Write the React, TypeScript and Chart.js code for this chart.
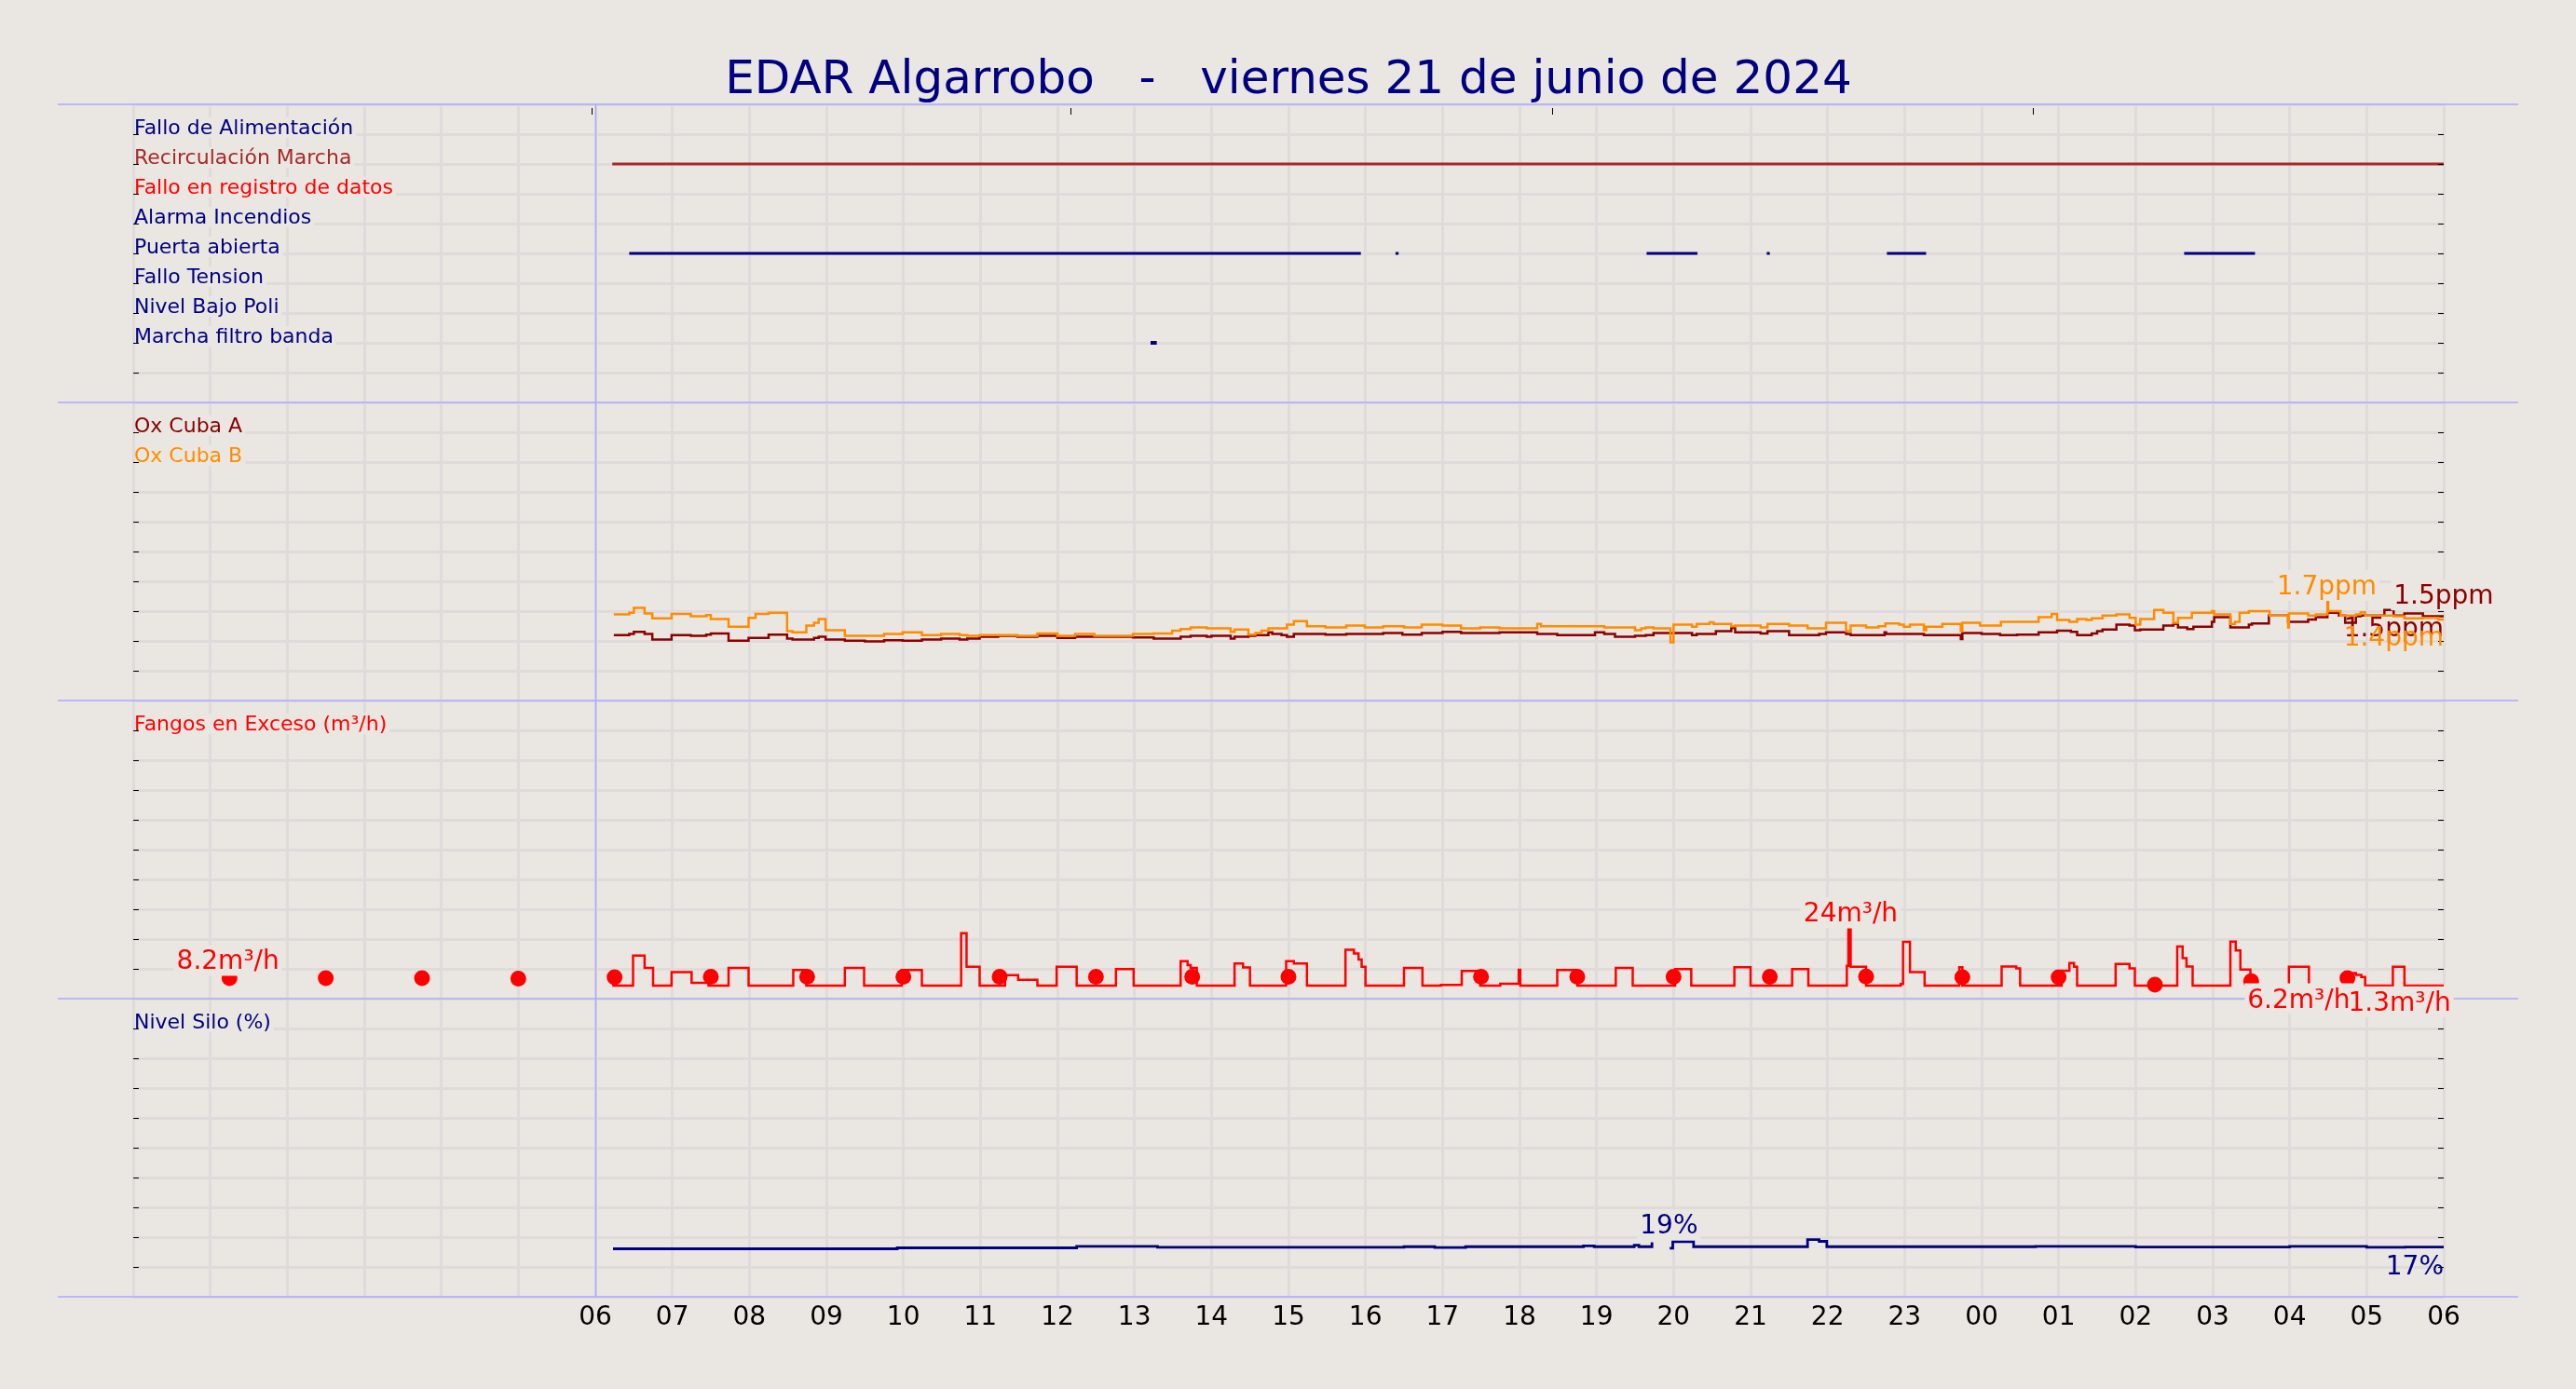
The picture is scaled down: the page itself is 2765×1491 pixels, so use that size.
import React, { useEffect, useRef } from "react";
import { Chart, registerables } from "chart.js";

Chart.register(...registerables);

const FONT = "'DejaVu Sans', Verdana, sans-serif";
const BG = "#EAE6E1";
const GRID = "#E0DBDB";
const FRAME = "#AAAAFF";
const NAVY = "#000080";
const BROWN = "#A52A2A";
const RED = "#FF0000";
const DARKRED = "#8B0000";
const ORANGE = "#FF8C00";

const TITLE = "EDAR Algarrobo   -   viernes 21 de junio de 2024";

// x is hours since 00:00 of 21/06; the axis runs to 06:00 of 22/06
const topTickHours = [5.95, 12.17, 18.42, 24.67];

// panel 1: digital signals (one row each, on/off intervals in hours)
const signalNames = [
  "Fallo de Alimentación",
  "Recirculación Marcha",
  "Fallo en registro de datos",
  "Alarma Incendios",
  "Puerta abierta",
  "Fallo Tension",
  "Nivel Bajo Poli",
  "Marcha filtro banda",
];
const signalColors = [NAVY, BROWN, RED, NAVY, NAVY, NAVY, NAVY, NAVY];
const signalOn = [
  [],
  [[6.22, 30]],
  [],
  [],
  [[6.44, 15.94], [16.39, 16.43], [19.65, 20.31], [21.21, 21.25], [22.77, 23.28], [26.63, 27.55]],
  [],
  [],
  [[13.21, 13.29]],
];

// panel 2: oxygen (ppm)
const oxNames = ["Ox Cuba A", "Ox Cuba B"];
const oxATimes = [
  6.24, 6.44, 6.5, 6.64, 6.74, 6.99, 7.24, 7.44, 7.5, 7.73, 7.99, 8.25, 8.49, 8.56, 8.84, 8.9, 8.99,
  9.24, 9.5, 9.75, 9.99, 10.24, 10.49, 10.73, 10.83, 10.99, 11.23, 11.48, 11.74, 12.0, 12.23, 12.98,
  13.25, 13.6, 13.73, 13.94, 14.0, 14.25, 14.3, 14.48, 14.57, 14.74, 14.79, 14.91, 14.98, 15.07, 15.48,
  15.75, 16.23, 16.48, 16.73, 17.0, 17.24, 17.74, 18.23, 18.49, 18.98, 19.1, 19.24, 19.5, 19.64, 19.74,
  20.24, 20.3, 20.55, 20.75, 20.8, 21.13, 21.22, 21.5, 21.89, 21.98, 22.24, 22.3, 22.74, 22.76, 23.25,
  23.73, 23.75, 24.0, 24.24, 24.46, 24.74, 24.98, 25.16, 25.24, 25.43, 25.5, 25.57, 25.75, 25.92, 25.99,
  26.06, 26.36, 26.49, 26.55, 26.67, 26.75, 26.99, 27.02, 27.23, 27.47, 27.51, 27.73, 27.98, 28.24,
  28.34, 28.49, 28.64, 28.72, 28.86, 28.92, 29.23, 29.35, 29.49, 29.73, 30.0,
];
const oxAValues = [
  1.17, 1.19, 1.23, 1.19, 1.09, 1.17, 1.16, 1.18, 1.2, 1.07, 1.12, 1.18, 1.11, 1.09, 1.12, 1.14, 1.09,
  1.07, 1.06, 1.08, 1.07, 1.09, 1.11, 1.09, 1.11, 1.14, 1.16, 1.14, 1.16, 1.12, 1.14, 1.13,
  1.11, 1.14, 1.16, 1.14, 1.16, 1.11, 1.14, 1.16, 1.17, 1.22, 1.19, 1.17, 1.14, 1.19, 1.18,
  1.19, 1.21, 1.18, 1.21, 1.23, 1.21, 1.22, 1.19, 1.17, 1.22, 1.19, 1.14, 1.16, 1.17, 1.21,
  1.17, 1.19, 1.24, 1.3, 1.22, 1.2, 1.24, 1.17, 1.19, 1.22, 1.19, 1.17, 1.22, 1.19, 1.17,
  1.1, 1.21, 1.19, 1.17, 1.18, 1.22, 1.25, 1.23, 1.17, 1.2, 1.24, 1.27, 1.36, 1.34, 1.26,
  1.27, 1.34, 1.37, 1.31, 1.28, 1.32, 1.41, 1.49, 1.31, 1.36, 1.38, 1.52, 1.41, 1.45,
  1.49, 1.57, 1.52, 1.39, 1.51, 1.52, 1.62, 1.52, 1.56, 1.51, 1.51,
];
const oxBTimes = [
  6.24, 6.44, 6.5, 6.64, 6.74, 6.99, 7.24, 7.44, 7.5, 7.73, 7.99, 8.08, 8.25, 8.49, 8.56, 8.74, 8.84,
  8.9, 8.99, 9.24, 9.75, 9.99, 10.24, 10.49, 10.73, 10.83, 10.99, 11.48, 11.74, 12.0, 12.23, 12.48,
  12.98, 13.25, 13.49, 13.6, 13.73, 13.94, 14.25, 14.3, 14.48, 14.57, 14.65, 14.74, 14.98, 15.07,
  15.24, 15.48, 15.75, 15.99, 16.23, 16.5, 16.73, 17.0, 17.24, 17.49, 17.74, 18.23, 18.28, 19.1, 19.5,
  19.58, 19.64, 19.74, 19.96, 20.0, 20.24, 20.3, 20.47, 20.52, 20.75, 20.8, 21.13, 21.22, 21.5, 21.74,
  21.98, 22.24, 22.3, 22.5, 22.66, 22.75, 22.93, 22.99, 23.07, 23.25, 23.28, 23.49, 23.73, 23.75,
  23.98, 24.25, 24.74, 24.91, 24.98, 25.14, 25.24, 25.36, 25.43, 25.57, 25.75, 25.92, 26.0, 26.06,
  26.24, 26.36, 26.49, 26.55, 26.73, 26.99, 27.02, 27.23, 27.29, 27.35, 27.47, 27.74, 27.98, 27.99,
  28.24, 28.34, 28.49, 28.5, 28.66, 28.86, 28.92, 28.98, 29.35, 29.49, 29.73, 29.93, 30.0,
];
const oxBValues = [
  1.54, 1.57, 1.66, 1.56, 1.47, 1.55, 1.51, 1.53, 1.46, 1.32, 1.48, 1.55, 1.57, 1.24, 1.22, 1.34, 1.39,
  1.46, 1.26, 1.16, 1.19, 1.22, 1.17, 1.19, 1.17, 1.16, 1.17, 1.16, 1.2, 1.16, 1.19, 1.16,
  1.19, 1.2, 1.25, 1.28, 1.31, 1.29, 1.23, 1.27, 1.18, 1.21, 1.25, 1.29, 1.36, 1.42,
  1.33, 1.31, 1.34, 1.31, 1.33, 1.31, 1.36, 1.34, 1.29, 1.31, 1.29, 1.37, 1.33, 1.31, 1.26,
  1.29, 1.31, 1.29, 1.04, 1.36, 1.32, 1.37, 1.4, 1.37, 1.33, 1.34, 1.31, 1.37, 1.34, 1.29,
  1.39, 1.24, 1.34, 1.31, 1.33, 1.38, 1.36, 1.32, 1.36, 1.26, 1.32, 1.37, 1.24, 1.39,
  1.34, 1.41, 1.49, 1.55, 1.44, 1.41, 1.46, 1.44, 1.47, 1.52, 1.54, 1.48, 1.36, 1.46,
  1.62, 1.57, 1.39, 1.48, 1.57, 1.6, 1.54, 1.37, 1.41, 1.57, 1.6, 1.52, 1.31, 1.56,
  1.52, 1.54, 1.77, 1.6, 1.52, 1.54, 1.58, 1.52, 1.51, 1.47, 1.48, 1.45, 1.45,
];

// panel 3: excess sludge (m³/h)
const fangosName = "Fangos en Exceso (m³/h)";
const fangosTimes = [
  6.22, 6.49, 6.64, 6.75, 6.99, 7.25, 7.47, 7.73, 7.99, 8.57, 8.74, 9.24, 9.49, 9.98, 10.24, 10.75,
  10.82, 10.99, 11.32, 11.49, 11.74, 11.99, 12.25, 12.76, 12.99, 13.6, 13.69, 13.73, 13.81, 14.3,
  14.41, 14.5, 14.97, 15.07, 15.24, 15.74, 15.85, 15.91, 15.95, 16.0, 16.5, 16.74, 16.98, 17.25,
  17.49, 17.75, 17.99, 18.01, 18.49, 18.75, 19.25, 19.47, 20.02, 20.23, 20.79, 21.0, 21.54, 21.75,
  22.25, 22.27, 22.3, 22.5, 22.95, 22.98, 23.07, 23.26, 23.71, 23.75, 24.26, 24.45, 24.5, 25.04,
  25.14, 25.2, 25.24, 25.74, 25.92, 25.99, 26.54, 26.61, 26.66, 26.74, 27.23, 27.3, 27.36, 27.49,
  27.51, 27.99, 28.25, 28.74, 28.86, 28.93, 28.98, 29.34, 29.49, 30.0,
];
const fangosValues = [
  0, 12.8, 7.5, 0, 5.8, 1.2, 0, 7.5, 0, 6.7, 0, 7.5, 0, 6.7, 0, 22.3,
  8.0, 0, 4.5, 2.5, 0, 8.0, 0, 7.1, 0, 10.4, 8.7, 7.5, 0, 9.4,
  7.7, 0, 10.4, 9.4, 0, 15.3, 13.7, 11.1, 8.0, 0, 7.5, 0, 0.3, 6.3,
  0, 0.8, 6.8, 0, 6.7, 0, 7.5, 0, 7.1, 0, 7.8, 0, 7.1, 0,
  8.4, 24.0, 8.0, 0, 0.7, 18.6, 5.8, 0, 7.8, 0, 8.1, 7.3, 0, 6.4,
  9.6, 8.0, 0, 9.2, 7.3, 0, 16.6, 11.7, 8.1, 0, 18.7, 15.0, 6.9, 2.5,
  0, 8.0, 0, 5.4, 4.6, 3.7, 0, 8.0, 0, 0,
];
const fangosDotTimes = [
  1.25, 2.5, 3.75, 5, 6.25, 7.5, 8.75, 10, 11.25, 12.5, 13.75, 15, 17.5, 18.75, 20, 21.25, 22.5,
  23.75, 25, 26.25, 27.5, 28.75,
];
const fangosDotValues = [
  3.2, 3.2, 3.2, 3.0, 3.6, 3.8, 3.8, 3.8, 3.8, 3.8, 3.8, 3.8, 3.8, 3.8, 3.8, 3.8, 3.9,
  3.6, 3.6, 0.4, 1.9, 3.2,
];

// panel 4: silo level (%)
const siloName = "Nivel Silo (%)";
const siloTimes = [
  6.23, 9.92, 12.25, 13.3, 16.5, 16.9, 17.3, 18.83, 18.97, 19.49, 19.55, 19.72, 19.76, 19.95, 19.99,
  20.26, 21.74, 21.89, 21.99, 24.7, 26.0, 28.0, 29.0, 29.5, 30.0,
];
const siloValues = [
  16.1, 16.4, 16.9, 16.6, 16.8, 16.5, 16.8, 17.1, 16.8, 17.3, 16.8, 18.3, null, 16.3, 18.5,
  16.8, 19.2, 18.6, 16.8, 16.9, 16.7, 16.9, 16.6, 16.7, 16.7,
];

// value annotations: [axis, hour, value, text, colour, side, alignment]
const valueLabels = [
  ["y2", 28.48, 1.75, "1.7ppm", ORANGE, "above", "center"],
  ["y2", 29.35, 1.58, "1.5ppm", DARKRED, "above", "left"],
  ["y2", 30, 1.62, "1.5ppm", DARKRED, "below", "right"],
  ["y2", 30, 1.45, "1.4ppm", ORANGE, "below", "right"],
  ["y3", 1.23, 3.4, "8.2m³/h", RED, "above", "center"],
  ["y3", 22.3, 23.6, "24m³/h", RED, "above", "center"],
  ["y3", 27.45, 1.8, "6.2m³/h", RED, "below", "left"],
  ["y3", 28.76, 0.5, "1.3m³/h", RED, "below", "left"],
  ["y4", 19.94, 18.3, "19%", NAVY, "above", "center"],
  ["y4", 30, 16.25, "17%", NAVY, "below", "right"],
];

const pts = (t: number[], v: (number | null)[]) => t.map((x, i) => ({ x, y: v[i] }));
const segs = (s: number[][], level: number) =>
  s.flatMap(([a, b]) => [{ x: a, y: level }, { x: b, y: level }, { x: b, y: null }]);

const panelAxis = (min: number, max: number, weight: number) => ({
  type: "linear",
  position: "right",
  stack: "panels",
  stackWeight: 1,
  weight,
  min,
  max,
  border: { display: false },
  grid: { color: GRID, lineWidth: 3, drawTicks: false },
  ticks: { display: false },
  afterBuildTicks: (s: any) => {
    s.ticks = Array.from({ length: 11 }, (_, i) => ({ value: min + ((max - min) * i) / 10 }));
  },
  afterFit: (s: any) => {
    s.width = 0;
  },
});

const decor = {
  id: "decor",
  afterDraw(chart: any) {
    const { ctx, chartArea: a, scales } = chart;
    const x = scales.x;
    const panels = [scales.y1, scales.y2, scales.y3, scales.y4];
    ctx.save();

    // panel frame lines and the 06:00 marker
    ctx.strokeStyle = FRAME;
    ctx.lineWidth = 1.5;
    ctx.beginPath();
    [...panels.map((p: any) => p.top), panels[3].bottom].forEach((y: number) => {
      ctx.moveTo(62, y);
      ctx.lineTo(2703, y);
    });
    const x6 = Math.round(x.getPixelForValue(6)) + 0.5;
    ctx.moveTo(x6, a.top);
    ctx.lineTo(x6, a.bottom);
    ctx.stroke();

    // series names inside each panel
    const legends: any[] = [
      [panels[0], signalNames, signalColors],
      [panels[1], oxNames, [DARKRED, ORANGE]],
      [panels[2], [fangosName], [RED]],
      [panels[3], [siloName], [NAVY]],
    ];
    ctx.font = `22px ${FONT}`;
    ctx.textAlign = "left";
    ctx.textBaseline = "alphabetic";
    for (const [s, names, colors] of legends) {
      names.forEach((n: string, i: number) => {
        const yb = s.top + ((i + 1) * s.height) / 10;
        const w = ctx.measureText(n).width;
        ctx.fillStyle = BG;
        ctx.fillRect(a.left + 2, yb - 18, w + 2, 22);
        ctx.fillStyle = colors[i];
        ctx.fillText(n, a.left + 1, yb);
      });
    }

    // small tick dashes on both sides
    ctx.strokeStyle = "#000";
    ctx.lineWidth = 1;
    ctx.beginPath();
    panels.forEach((s: any) =>
      s.ticks.forEach((t: any, i: number) => {
        if (i === 0 || i === s.ticks.length - 1) return;
        const y = Math.round(s.getPixelForValue(t.value)) + 0.5;
        ctx.moveTo(a.left, y);
        ctx.lineTo(a.left + 6, y);
        ctx.moveTo(a.right - 6, y);
        ctx.lineTo(a.right, y);
      })
    );
    topTickHours.forEach((h) => {
      const px = Math.round(x.getPixelForValue(h)) + 0.5;
      ctx.moveTo(px, a.top + 4);
      ctx.lineTo(px, a.top + 11);
    });
    ctx.stroke();

    // value annotations: backgrounds first (not for the end-of-line ones), then texts
    ctx.font = `28px ${FONT}`;
    const placed = (valueLabels as any[]).map(([axis, hx, vy, text, color, place, align]) => {
      const px = x.getPixelForValue(hx);
      const py = scales[axis].getPixelForValue(vy);
      const w = ctx.measureText(text).width;
      const left = align === "center" ? px - w / 2 : align === "left" ? px : px - w;
      const base = place === "above" ? py - 9 : py + 28;
      return { text, color, left, base, w, boxed: align !== "right" };
    });
    ctx.fillStyle = BG;
    placed.forEach((p) => {
      if (p.boxed) ctx.fillRect(p.left - 3, p.base - 26, p.w + 6, 33);
    });
    placed.forEach((p) => {
      ctx.fillStyle = p.color;
      ctx.fillText(p.text, p.left, p.base);
    });

    // title
    ctx.font = `50px ${FONT}`;
    ctx.textAlign = "center";
    ctx.fillStyle = NAVY;
    ctx.fillText(TITLE, (a.left + a.right) / 2, 100);
    ctx.restore();
  },
};

const line = (data: any[], color: string, axis: string, width = 2.5, stepped: any = true) => ({
  data,
  borderColor: color,
  backgroundColor: color,
  borderWidth: width,
  pointRadius: 0,
  stepped,
  spanGaps: false,
  yAxisID: axis,
  borderCapStyle: "butt",
  borderJoinStyle: "miter",
});

export default function App() {
  const canvasRef = useRef<HTMLCanvasElement | null>(null);

  useEffect(() => {
    const signalSets = signalOn
      .map((s, i) => (s.length ? line(segs(s, 9 - i), signalColors[i], "y1", i === 7 ? 4 : 3, false) : null))
      .filter(Boolean);

    const chart = new Chart(canvasRef.current as HTMLCanvasElement, {
      type: "line",
      data: {
        datasets: [
          ...signalSets,
          {
            data: pts(fangosDotTimes, fangosDotValues),
            showLine: false,
            pointRadius: 8.5,
            pointBorderWidth: 0,
            pointBackgroundColor: RED,
            borderColor: RED,
            yAxisID: "y3",
          },
          line(pts(fangosTimes, fangosValues), RED, "y3"),
          line(pts(oxBTimes, oxBValues), ORANGE, "y2"),
          line(pts(oxATimes, oxAValues), DARKRED, "y2"),
          line(pts(siloTimes, siloValues), NAVY, "y4", 2.8),
        ] as any,
      },
      options: {
        animation: false,
        responsive: false,
        devicePixelRatio: 1,
        events: [],
        layout: { padding: { left: 143, right: 142, top: 112, bottom: 0 } },
        plugins: { legend: { display: false }, tooltip: { enabled: false }, title: { display: false } },
        scales: {
          x: {
            type: "linear",
            min: 0,
            max: 30,
            border: { display: false },
            grid: { color: GRID, lineWidth: 3, drawTicks: false },
            ticks: {
              stepSize: 1,
              autoSkip: false,
              maxRotation: 0,
              minRotation: 0,
              padding: 6,
              color: "#000",
              font: { family: FONT, size: 28 },
              callback: (v: any) => (v >= 6 ? String(v % 24).padStart(2, "0") : ""),
            },
            afterFit: (s: any) => {
              s.height = 99;
            },
          },
          y1: panelAxis(0, 10, 1),
          y2: panelAxis(0, 5.333, 2),
          y3: panelAxis(-5.5, 121, 3),
          y4: panelAxis(0, 100, 4),
        } as any,
      },
      plugins: [decor],
    });
    return () => chart.destroy();
  }, []);

  return (
    <div style={{ position: "fixed", left: 0, top: 0, width: 2765, height: 1491, background: BG }}>
      <canvas ref={canvasRef} width={2765} height={1491} style={{ display: "block" }} />
    </div>
  );
}
